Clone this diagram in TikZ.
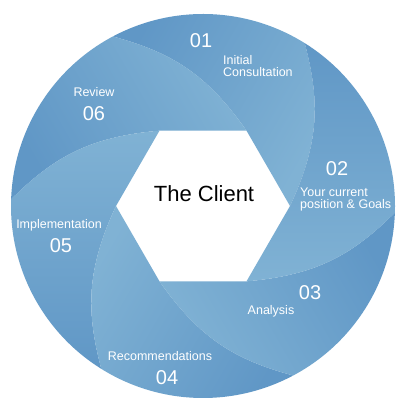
\documentclass[tikz,border=0pt]{standalone}
\usepackage{fontspec}
\setmainfont{Liberation Sans}
\usepackage{tikz}
\usepackage{xcolor}

\definecolor{petallight}{RGB}{128,178,212}
\definecolor{petaldark}{RGB}{96,151,198}

\begin{document}
\begin{tikzpicture}[x=1pt, y=1pt,
        petal/.style={top color=petaldark, bottom color=petallight},
        stepnum/.style={text=white, inner sep=0pt, font=\fontsize{20}{20}\selectfont},
        steplabel/.style={text=white, inner sep=0pt, align=left, font=\fontsize{12.5}{12}\selectfont}]
        \useasboundingbox (0,0) rectangle (400,401);
        \fill[white] (0,0) rectangle (400,401);

        % Petals
        \begin{scope}[shift={(203,195)}]
        \foreach \a [evaluate=\a as \sa using \a+60] in {0,60,...,300} {
            \shade[petal, shading angle=\sa]
                ({\a}:87) -- ({\a+60}:87)
                .. controls ({\a+88.5}:132.7) and ({\a+101.8}:157.2) .. ({\a+118}:192)
                arc[start angle=\a+118, end angle=\a+58, radius=192]
                .. controls ({\a+41.8}:157.2) and ({\a+28.5}:132.7) .. ({\a}:87) -- cycle;
        }
        \end{scope}

        % Nodes
        \node (client) at (204,207) {\fontsize{22}{22}\selectfont The Client};
        \node[stepnum] (num1) at (201,360) {01};
        \node[steplabel, anchor=west] (lab1) at (223,335) {Initial\\Consultation};
        \node[stepnum] (num2) at (337,232) {02};
        \node[steplabel, anchor=west] (lab2) at (300,202) {Your current\\position \& Goals};
        \node[stepnum] (num3) at (310,108) {03};
        \node[steplabel] (lab3) at (271,90) {Analysis};
        \node[steplabel] (lab4) at (160,45) {Recommendations};
        \node[stepnum] (num4) at (167,23) {04};
        \node[steplabel] (lab5) at (59,176) {Implementation};
        \node[stepnum] (num5) at (61,155) {05};
        \node[steplabel] (lab6) at (94,309) {Review};
        \node[stepnum] (num6) at (94,287) {06};
\end{tikzpicture}
\end{document}
